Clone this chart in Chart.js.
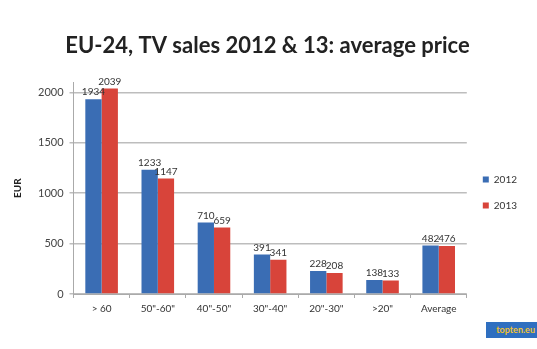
<!DOCTYPE html>
<html>
<head>
<meta charset="utf-8">
<script src="https://cdn.jsdelivr.net/npm/chart.js@4"></script>
<style>
  html, body { margin: 0; padding: 0; background: #fff; }
  #wrap { position: relative; width: 537px; height: 349px; }
  #logo {
    position: absolute; left: 486px; top: 322px; width: 51px; height: 16px;
    background: #2f6fc0; color: #f2c230; font: bold 9px Lato, sans-serif;
    line-height: 16px; text-align: right; padding-right: 2px; box-sizing: border-box;
  }
</style>
</head>
<body>
<div id="wrap">
  <canvas id="grafico" width="537" height="349"></canvas>
  <div id="logo">topten.eu</div>
</div>
<script>
const categorias = ["> 60", "50\"-60\"", "40\"-50\"", "30\"-40\"", "20\"-30\"", ">20\"", "Average"];
const precios2012 = [1934, 1233, 710, 391, 228, 138, 482];
const precios2013 = [2039, 1147, 659, 341, 208, 133, 476];
const marcasY = [0, 500, 1000, 1500, 2000];

const fuente = "Lato, 'Open Sans', sans-serif";

// etiquetas de valor encima de cada barra
const etiquetasValor = {
  id: "etiquetasValor",
  afterDatasetsDraw(chart) {
    const ctx = chart.ctx;
    ctx.save();
    ctx.font = "10px " + fuente;
    ctx.fillStyle = "#333";
    ctx.textAlign = "center";
    ctx.textBaseline = "bottom";
    chart.data.datasets.forEach((ds, i) => {
      chart.getDatasetMeta(i).data.forEach((barra, j) => {
        ctx.fillText(String(ds.data[j]), barra.x, barra.y - 2);
      });
    });
    ctx.restore();
  }
};

// baja un poco la leyenda
const bajarLeyenda = {
  id: "bajarLeyenda",
  afterLayout(chart) {
    chart.legend.top += 16;
    chart.legend.bottom += 16;
  }
};

const ctx = document.getElementById("grafico").getContext("2d");

new Chart(ctx, {
  type: "bar",
  data: {
    labels: categorias,
    datasets: [
      { label: "2012", data: precios2012, backgroundColor: "#3a6db4" },
      { label: "2013", data: precios2013, backgroundColor: "#d8443a" }
    ]
  },
  options: {
    responsive: false,
    animation: false,
    layout: { padding: { top: 33, left: 8, right: 10, bottom: 29 } },
    datasets: { bar: { categoryPercentage: 0.58, barPercentage: 1.0 } },
    plugins: {
      title: {
        display: true,
        text: "EU-24, TV sales 2012 & 13: average price",
        color: "#222",
        font: { family: fuente, size: 22, weight: "bold" },
        padding: { top: 0, bottom: 23 }
      },
      legend: {
        position: "right",
        labels: {
          color: "#333",
          font: { family: fuente, size: 10 },
          boxWidth: 6,
          boxHeight: 6,
          padding: 16
        }
      },
      tooltip: { enabled: false }
    },
    scales: {
      x: {
        grid: { display: true, drawOnChartArea: false, offset: true, tickLength: 4, color: "#aaa" },
        border: { color: "#aaa" },
        ticks: { color: "#333", font: { family: fuente, size: 10 }, padding: 5 }
      },
      y: {
        min: 0,
        max: 2100,
        afterBuildTicks(axis) {
          axis.ticks = marcasY.map(v => ({ value: v }));
        },
        grid: { color: "#bdbdbd", lineWidth: 1.5, tickLength: 4 },
        border: { color: "#aaa" },
        ticks: {
          color: "#444",
          font: { family: fuente, size: 11 },
          padding: 6,
          callback: v => String(v)
        },
        title: {
          display: true,
          text: "EUR",
          color: "#222",
          font: { family: fuente, size: 10, weight: "bold" },
          padding: { bottom: 8 }
        }
      }
    }
  },
  plugins: [etiquetasValor, bajarLeyenda]
});
</script>
</body>
</html>
